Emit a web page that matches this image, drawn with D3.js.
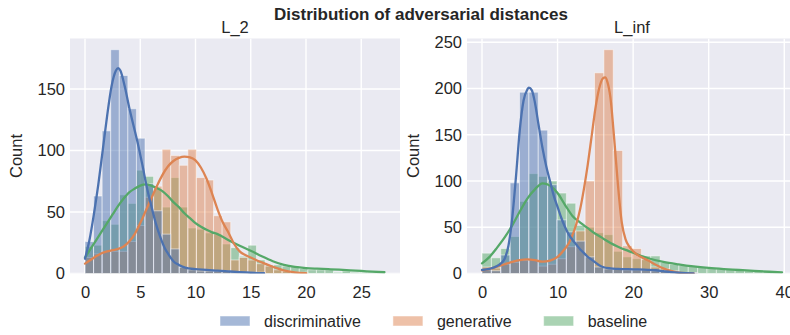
<!DOCTYPE html>
<html>
<head>
<meta charset="utf-8">
<script src="https://cdn.jsdelivr.net/npm/d3@7/dist/d3.min.js"></script>
<style>
  body { margin: 0; background: #ffffff; }
  text { font-family: "Liberation Sans", Arial, sans-serif; fill: #262626; }
</style>
</head>
<body>
<svg id="chart" width="790" height="335"></svg>
<script>
// ---- series ----
const seriesNames = ["discriminative", "generative", "baseline"];
const seriesColors = ["#4c72b0", "#dd8452", "#55a868"];

// ---- L_2 panel: shared histogram bins ----
const l2BinRange = [0, 27.15];
const l2BinCount = 35;
const l2Disc = [26, 63, 116, 182, 161, 134, 110, 73, 51, 32, 20, 5, 3, 2, 2, 2, 2, 1, 1, 1, 1, 0, 0, 0, 0, 0, 0, 0, 0, 0, 0, 0, 0, 0, 0];
const l2Gen  = [13, 16, 18, 18, 18, 26, 39, 62, 71, 101, 96, 88, 101, 78, 76, 47, 42, 11, 13, 11, 8, 6, 3, 2, 1, 1, 0, 0, 0, 0, 0, 0, 0, 0, 0];
const l2Base = [22, 23, 43, 40, 64, 57, 84, 79, 69, 54, 78, 54, 37, 36, 33, 32, 24, 21, 14, 23, 11, 7, 7, 6, 6, 4, 3, 3, 3, 1, 2, 1, 1, 1, 1];

// L_2 density curves (scaled to counts)
const l2KdeDiscX = [0, 0.4, 0.8, 1.2, 1.6, 2.0, 2.4, 2.8, 3.0, 3.2, 3.6, 4.0, 4.4, 4.8, 5.2, 5.6, 6.0, 6.4, 6.8, 7.2, 7.6, 8.0, 8.5, 9, 10, 11, 12, 13, 14, 15, 16.2];
const l2KdeDiscY = [12, 27, 48, 72, 100, 128, 152, 165, 167, 165, 152, 135, 120, 105, 88, 70, 55, 41, 30, 21, 15, 10, 7, 5, 3.5, 3, 2.3, 1.7, 1.1, 0.6, 0.3];
const l2KdeGenX = [0, 0.5, 1, 1.5, 2, 2.5, 3, 3.5, 4, 4.5, 5, 5.5, 6, 6.5, 7, 7.5, 8, 8.5, 9, 9.5, 10, 10.5, 11, 11.5, 12, 12.5, 13, 13.5, 14, 14.5, 15, 16, 17, 18, 19, 20];
const l2KdeGenY = [8, 11, 14, 16.5, 18, 19, 20, 22, 26, 32, 41, 51, 61, 71, 80, 87, 91.5, 94, 95, 94.5, 92, 86, 77, 65, 52, 41, 33, 24, 18, 15, 13, 9, 5.5, 2.5, 1, 0.3];
const l2KdeBaseX = [0, 0.5, 1, 1.5, 2, 2.5, 3, 3.5, 4, 4.5, 5, 5.5, 6, 6.5, 7, 7.5, 8, 8.5, 9, 9.5, 10, 10.5, 11, 11.5, 12, 13, 14, 15, 16, 17, 18, 19, 20, 21, 22, 23, 24, 25, 26, 27.1];
const l2KdeBaseY = [13, 20, 27, 34, 41, 48, 55, 61, 66, 69, 71.5, 72.5, 71.5, 69.5, 67, 63, 58, 54, 49, 45, 41, 38, 35.5, 33.5, 32, 27, 22.5, 18.5, 14, 10, 7, 5.3, 4.4, 3.9, 3.5, 3.1, 2.6, 2.1, 1.5, 1.0];

// ---- L_inf panel ----
const linfBinRange = [0, 39.7];
const linfBinCount = 32;
const linfDisc = [4, 3, 20, 98, 196, 196, 155, 96, 58, 45, 35, 18, 7, 5, 5, 4, 4, 4, 3, 3, 2, 1, 1, 0, 0, 0, 0, 0, 0, 0, 0, 0];
const linfGen  = [7, 6, 10, 12, 14, 15, 8, 10, 16, 29, 46, 100, 217, 242, 133, 30, 27, 15, 7, 5, 3, 1, 1, 0, 0, 0, 0, 0, 0, 0, 0, 0];
const linfBase = [22, 17, 27, 40, 78, 108, 105, 100, 87, 76, 52, 50, 44, 42, 24, 18, 16, 19, 19, 12, 10, 9, 8, 7, 6, 5, 5, 4, 3, 3, 2, 1];

const linfKdeDiscX = [0, 1, 2, 2.5, 3, 3.5, 4, 4.5, 5, 5.5, 6, 6.2, 6.6, 7, 7.5, 8, 8.5, 9, 9.5, 10, 10.5, 11, 11.5, 12, 12.5, 13, 13.5, 14, 14.5, 15, 15.5, 16, 17, 18, 20, 22, 23, 24, 25, 26, 27, 28];
const linfKdeDiscY = [3.8, 5, 8, 11, 16, 30, 60, 105, 155, 187, 199, 201, 198, 185, 160, 136, 116, 100, 84, 72, 60, 50, 42, 36, 31, 26, 22, 18, 15, 12, 9, 7, 5.5, 5, 4.5, 4, 3.5, 2.5, 1.5, 0.8, 0.4, 0.2];
const linfKdeGenX = [0, 1, 2, 3, 4, 5, 6, 7, 8, 9, 10, 11, 11.5, 12, 12.5, 13, 13.5, 14, 14.5, 15, 15.5, 16, 16.3, 16.6, 17, 17.5, 18, 18.5, 19, 19.5, 20, 21, 22, 23, 24, 25, 26, 27, 28];
const linfKdeGenY = [3.5, 5, 7.5, 10, 12.5, 14.5, 15.2, 14.5, 12.8, 14, 18, 27, 33, 42, 54, 70, 92, 118, 148, 178, 200, 211, 212, 207, 190, 145, 95, 55, 37, 29, 24, 18, 14, 9.5, 5.5, 2.8, 1, 0.3, 0.1];
const linfKdeBaseX = [0, 1, 2, 3, 4, 5, 6, 7, 8, 9, 10, 11, 12, 13, 14, 15, 16, 17, 18, 19, 20, 21, 22, 24, 26, 28, 30, 32, 34, 36, 38, 39.7];
const linfKdeBaseY = [11, 18, 28, 39, 52, 67, 81, 91, 97.5, 95, 87, 74, 62, 55, 49, 43, 38, 33, 29, 25.5, 22.5, 19, 16.5, 12.5, 9.8, 7.6, 6, 4.8, 3.8, 2.8, 1.9, 1.2];

// ---- ticks ----
const l2XTicks = [0, 5, 10, 15, 20, 25];
const l2YTicks = [0, 50, 100, 150];
const linfXTicks = [0, 10, 20, 30, 40];
const linfYTicks = [0, 50, 100, 150, 200, 250];

// ---- layout ----
const svg = d3.select("#chart");
const panelTop = 38.5, panelBottom = 273.5, panelW = 330;
const bg = "#eaeaf2";

const panels = [
  { title: "L_2", left: 70, range: l2BinRange, nbins: l2BinCount,
    counts: [l2Disc, l2Gen, l2Base],
    kde: [[l2KdeDiscX, l2KdeDiscY], [l2KdeGenX, l2KdeGenY], [l2KdeBaseX, l2KdeBaseY]],
    xTicks: l2XTicks, yTicks: l2YTicks },
  { title: "L_inf", left: 467, range: linfBinRange, nbins: linfBinCount,
    counts: [linfDisc, linfGen, linfBase],
    kde: [[linfKdeDiscX, linfKdeDiscY], [linfKdeGenX, linfKdeGenY], [linfKdeBaseX, linfKdeBaseY]],
    xTicks: linfXTicks, yTicks: linfYTicks }
];

panels.forEach((p, pi) => {
  const g = svg.append("g");
  const [lo, hi] = p.range;
  const span = hi - lo;
  const x = d3.scaleLinear()
    .domain([lo - 0.05 * span, hi + 0.05 * span])
    .range([p.left, p.left + panelW]);
  const maxCount = d3.max(p.counts.flat());
  const y = d3.scaleLinear()
    .domain([0, maxCount * 1.05])
    .range([panelBottom, panelTop]);

  // background
  g.append("rect")
    .attr("x", p.left).attr("y", panelTop)
    .attr("width", panelW).attr("height", panelBottom - panelTop)
    .attr("fill", bg);

  const clipId = "clip" + pi;
  svg.append("clipPath").attr("id", clipId).append("rect")
    .attr("x", p.left).attr("y", panelTop)
    .attr("width", panelW).attr("height", panelBottom - panelTop);

  // grid
  const grid = g.append("g").attr("clip-path", `url(#${clipId})`);
  grid.selectAll("line.v").data(p.xTicks).join("line")
    .attr("class", "v")
    .attr("x1", d => x(d)).attr("x2", d => x(d))
    .attr("y1", panelTop).attr("y2", panelBottom)
    .attr("stroke", "#ffffff").attr("stroke-width", 1.4);
  grid.selectAll("line.h").data(p.yTicks).join("line")
    .attr("class", "h")
    .attr("x1", p.left).attr("x2", p.left + panelW)
    .attr("y1", d => y(d)).attr("y2", d => y(d))
    .attr("stroke", "#ffffff").attr("stroke-width", 1.4);

  // bins
  const edges = d3.range(p.nbins + 1).map(i => lo + span * i / p.nbins);

  // layered histograms: last hue level underneath, first on top
  const plot = g.append("g").attr("clip-path", `url(#${clipId})`);
  [2, 1, 0].forEach(k => {
    plot.append("g").selectAll("rect").data(p.counts[k]).join("rect")
      .attr("x", (d, i) => x(edges[i]))
      .attr("width", (d, i) => x(edges[i + 1]) - x(edges[i]))
      .attr("y", d => y(d))
      .attr("height", d => y(0) - y(d))
      .attr("fill", seriesColors[k]).attr("fill-opacity", 0.5)
      .attr("stroke", "#ffffff").attr("stroke-opacity", 0.5).attr("stroke-width", 1);
  });

  // density curves
  const line = d3.line().x(d => x(d[0])).y(d => y(d[1])).curve(d3.curveMonotoneX);
  [2, 1, 0].forEach(k => {
    const [xs, ys] = p.kde[k];
    plot.append("path")
      .datum(xs.map((v, i) => [v, ys[i]]))
      .attr("d", line)
      .attr("fill", "none")
      .attr("stroke", seriesColors[k])
      .attr("stroke-width", 2.3)
      .attr("stroke-linecap", "round")
      .attr("stroke-linejoin", "round");
  });

  // axes
  const yAxis = g.append("g").attr("transform", `translate(${p.left},0)`)
    .call(d3.axisLeft(y).tickValues(p.yTicks).tickSize(0).tickPadding(5));
  const xAxis = g.append("g").attr("transform", `translate(0,${panelBottom})`)
    .call(d3.axisBottom(x).tickValues(p.xTicks).tickSize(0).tickPadding(13));
  [yAxis, xAxis].forEach(a => {
    a.select(".domain").remove();
    a.selectAll("text")
      .style("font-family", '"Liberation Sans", Arial, sans-serif')
      .style("font-size", "16.5px")
      .attr("fill", "#262626");
  });

  // panel title
  g.append("text")
    .attr("x", p.left + panelW / 2).attr("y", 33)
    .attr("text-anchor", "middle")
    .style("font-size", "16.5px")
    .text(p.title);

  // y label
  g.append("text")
    .attr("transform", `translate(${p.left - 48.5},${(panelTop + panelBottom) / 2}) rotate(-90)`)
    .attr("text-anchor", "middle")
    .style("font-size", "16.5px")
    .text("Count");
});

// figure title
svg.append("text")
  .attr("x", 421).attr("y", 20)
  .attr("text-anchor", "middle")
  .style("font-size", "17px")
  .style("font-weight", "bold")
  .text("Distribution of adversarial distances");

// legend
const legend = svg.append("g");
let lx = 220;
const ly = 321;
seriesNames.forEach((name, k) => {
  legend.append("rect")
    .attr("x", lx).attr("y", ly - 5)
    .attr("width", 30).attr("height", 10)
    .attr("fill", seriesColors[k]).attr("fill-opacity", 0.5)
    .attr("stroke", "#ffffff").attr("stroke-opacity", 0.5).attr("stroke-width", 1);
  const t = legend.append("text")
    .attr("x", lx + 44).attr("y", ly + 6)
    .style("font-size", "16px")
    .text(name);
  lx = lx + 44 + t.node().getComputedTextLength() + 32;
});
</script>
</body>
</html>
